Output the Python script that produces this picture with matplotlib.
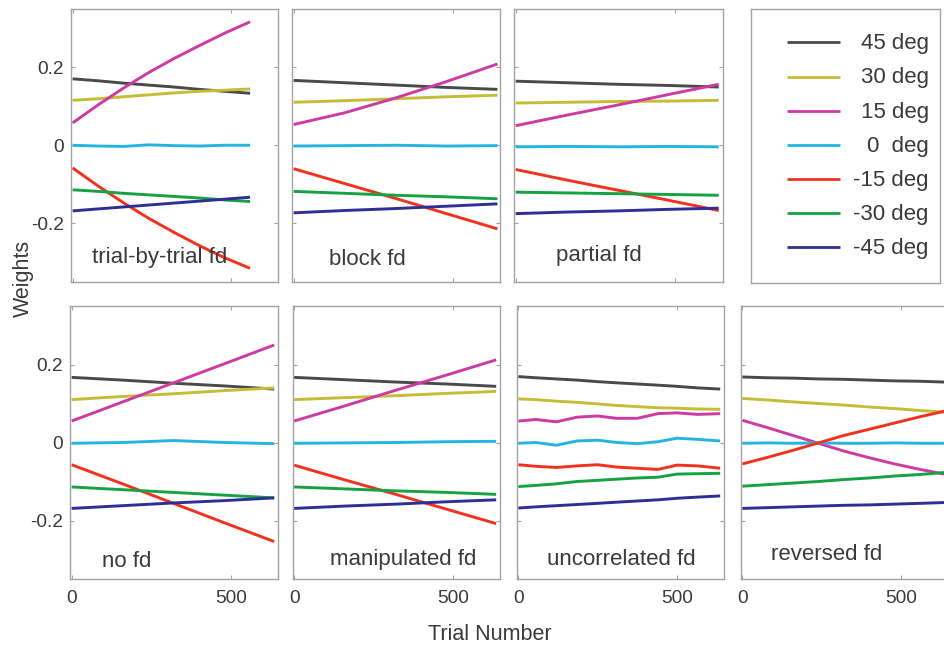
import matplotlib
matplotlib.use("Agg")
import matplotlib.pyplot as plt

plt.rcParams['font.family'] = ['Liberation Sans', 'DejaVu Sans']

# ---------------- data ----------------
series_labels = ['45 deg', '30 deg', '15 deg', '0  deg', '-15 deg', '-30 deg', '-45 deg']
series_colors = ['#4a4a4a', '#c6bd36', '#cf3aa2', '#25b4e0', '#f2321f', '#16a244', '#2e2e95']

panel_titles = ['trial-by-trial fd', 'block fd', 'partial fd',
                'no fd', 'manipulated fd', 'uncorrelated fd', 'reversed fd']

x_ticks = [0, 500]
y_ticks = [-0.2, 0, 0.2]
y_tick_labels = ['-0.2', '0', '0.2']

trials_tbt = [0, 80, 160, 240, 320, 400, 480, 560]
weights_tbt = [
    [0.170, 0.165, 0.159, 0.154, 0.149, 0.143, 0.138, 0.133],
    [0.115, 0.119, 0.124, 0.129, 0.134, 0.138, 0.141, 0.144],
    [0.057, 0.103, 0.146, 0.186, 0.222, 0.255, 0.287, 0.316],
    [0.000, -0.002, -0.003, 0.001, -0.001, -0.002, 0.000, 0.000],
    [-0.058, -0.104, -0.147, -0.187, -0.223, -0.257, -0.288, -0.315],
    [-0.114, -0.118, -0.123, -0.127, -0.131, -0.135, -0.140, -0.144],
    [-0.168, -0.163, -0.158, -0.153, -0.148, -0.143, -0.138, -0.133],
]

trials_block = [0, 160, 320, 480, 640]
weights_block = [
    [0.166, 0.160, 0.154, 0.148, 0.143],
    [0.110, 0.114, 0.119, 0.124, 0.128],
    [0.053, 0.083, 0.121, 0.163, 0.208],
    [-0.002, -0.001, 0.000, -0.002, -0.001],
    [-0.060, -0.098, -0.136, -0.175, -0.214],
    [-0.118, -0.123, -0.128, -0.132, -0.137],
    [-0.173, -0.167, -0.162, -0.156, -0.150],
]

trials_partial = [0, 160, 320, 480, 636]
weights_partial = [
    [0.164, 0.160, 0.156, 0.153, 0.149],
    [0.108, 0.110, 0.112, 0.113, 0.115],
    [0.050, 0.077, 0.103, 0.130, 0.156],
    [-0.004, -0.003, -0.004, -0.003, -0.004],
    [-0.062, -0.089, -0.115, -0.141, -0.167],
    [-0.120, -0.122, -0.124, -0.126, -0.128],
    [-0.175, -0.171, -0.168, -0.164, -0.161],
]

trials_nofd = [0, 160, 320, 480, 636]
weights_nofd = [
    [0.167, 0.160, 0.152, 0.145, 0.137],
    [0.110, 0.118, 0.125, 0.133, 0.140],
    [0.055, 0.104, 0.153, 0.202, 0.250],
    [-0.002, 0.000, 0.005, 0.000, -0.003],
    [-0.057, -0.106, -0.156, -0.206, -0.254],
    [-0.114, -0.121, -0.128, -0.135, -0.142],
    [-0.169, -0.162, -0.155, -0.149, -0.142],
]

trials_manip = [0, 160, 320, 480, 636]
weights_manip = [
    [0.167, 0.161, 0.155, 0.150, 0.144],
    [0.110, 0.115, 0.120, 0.126, 0.131],
    [0.055, 0.094, 0.134, 0.173, 0.212],
    [-0.002, -0.001, 0.000, 0.002, 0.003],
    [-0.058, -0.096, -0.133, -0.171, -0.208],
    [-0.114, -0.119, -0.124, -0.128, -0.133],
    [-0.169, -0.163, -0.158, -0.152, -0.147],
]

trials_uncorr = [0, 55, 120, 185, 250, 310, 375, 440, 500, 565, 636]
weights_uncorr = [
    [0.169, 0.166, 0.163, 0.160, 0.156, 0.153, 0.150, 0.147, 0.144, 0.140, 0.137],
    [0.112, 0.110, 0.106, 0.103, 0.099, 0.095, 0.092, 0.089, 0.088, 0.086, 0.085],
    [0.055, 0.059, 0.053, 0.065, 0.068, 0.062, 0.062, 0.074, 0.076, 0.072, 0.074],
    [-0.002, 0.000, -0.007, 0.004, 0.006, 0.000, -0.003, 0.002, 0.011, 0.008, 0.004],
    [-0.057, -0.061, -0.064, -0.060, -0.057, -0.063, -0.066, -0.069, -0.058, -0.060, -0.066],
    [-0.113, -0.110, -0.106, -0.100, -0.097, -0.094, -0.091, -0.089, -0.081, -0.080, -0.079],
    [-0.168, -0.165, -0.162, -0.159, -0.156, -0.153, -0.150, -0.147, -0.143, -0.140, -0.137],
]

trials_rev = [0, 80, 160, 240, 320, 400, 480, 560, 636]
weights_rev = [
    [0.168, 0.166, 0.165, 0.163, 0.162, 0.160, 0.158, 0.157, 0.155],
    [0.113, 0.109, 0.104, 0.100, 0.096, 0.091, 0.087, 0.082, 0.078],
    [0.057, 0.038, 0.018, -0.002, -0.022, -0.039, -0.055, -0.069, -0.081],
    [-0.002, -0.001, -0.002, -0.001, -0.002, -0.002, -0.001, -0.002, -0.002],
    [-0.055, -0.038, -0.020, -0.001, 0.018, 0.034, 0.050, 0.066, 0.080],
    [-0.112, -0.108, -0.104, -0.100, -0.095, -0.091, -0.086, -0.082, -0.077],
    [-0.169, -0.167, -0.165, -0.163, -0.161, -0.160, -0.158, -0.156, -0.154],
]

panel_data = [
    (trials_tbt, weights_tbt), (trials_block, weights_block), (trials_partial, weights_partial),
    (trials_nofd, weights_nofd), (trials_manip, weights_manip), (trials_uncorr, weights_uncorr),
    (trials_rev, weights_rev),
]

# ---------------- layout (pixels: left, top, right, bottom) ----------------
W, H = 944, 647
panel_boxes = [
    (71, 8.5, 278, 282), (292, 8.5, 500, 282), (514, 8.5, 722.5, 282),
    (70, 306, 278, 579), (292.5, 306, 500, 579), (516.7, 306, 724, 579), (740.7, 306, 948, 579),
]
legend_box = (751, 9, 940, 283)
title_pos = [(0.10, 0.068), (0.18, 0.062), (0.20, 0.075),
             (0.155, 0.044), (0.18, 0.052), (0.146, 0.051), (0.145, 0.070)]

def frac_rect(box):
    l, t, r, b = box
    return [l / W, 1 - b / H, (r - l) / W, (b - t) / H]

FRAME = '#a3a3a3'
TXT = '#3a3a3a'

fig = plt.figure(figsize=(W / 100, H / 100), dpi=100)

for i, ((trials, weights), box) in enumerate(zip(panel_data, panel_boxes)):
    ax = fig.add_axes(frac_rect(box))
    for vals, col in zip(weights, series_colors):
        ax.plot(trials, vals, color=col, lw=2.1, solid_capstyle='butt', solid_joinstyle='round')
    ax.set_xlim(-5, 648)
    ax.set_ylim(-0.35, 0.35)
    ax.set_xticks(x_ticks)
    ax.set_yticks(y_ticks)
    ax.set_yticklabels(y_tick_labels)
    ax.tick_params(direction='in', length=3, width=0.8, color=FRAME,
                   top=True, right=True, labelsize=13.8, labelcolor=TXT)
    ax.tick_params(axis='y', pad=5)
    ax.tick_params(axis='x', pad=8)
    if i not in (0, 3):
        ax.tick_params(axis='y', labelleft=False)
    if i < 3:
        ax.tick_params(axis='x', labelbottom=False)
    for sp in ax.spines.values():
        sp.set_color(FRAME)
        sp.set_linewidth(1.0)
    tx, ty = title_pos[i]
    ax.text(tx, ty, panel_titles[i], transform=ax.transAxes, fontsize=16,
            color=TXT, ha='left', va='baseline')

# legend panel
lax = fig.add_axes(frac_rect(legend_box))
lax.set_xlim(0, 1)
lax.set_ylim(0, 1)
lax.set_xticks([])
lax.set_yticks([])
for sp in lax.spines.values():
    sp.set_color(FRAME)
    sp.set_linewidth(1.0)
for k, (lab, col) in enumerate(zip(series_labels, series_colors)):
    yy = 1 - (33.3 + 34.2 * k) / 274
    lax.plot([0.19, 0.47], [yy, yy], color=col, lw=2.0, solid_capstyle='butt')
    lax.text(0.94, yy - 0.005, lab, fontsize=16, color=TXT, ha='right', va='center')

fig.text(23 / W, 1 - 278 / H, 'Weights', rotation=90, fontsize=15.5, color=TXT,
         ha='center', va='center')
fig.text(490 / W, 1 - 634 / H, 'Trial Number', fontsize=15.5, color=TXT,
         ha='center', va='center')

fig.savefig('out.png', dpi=100)
